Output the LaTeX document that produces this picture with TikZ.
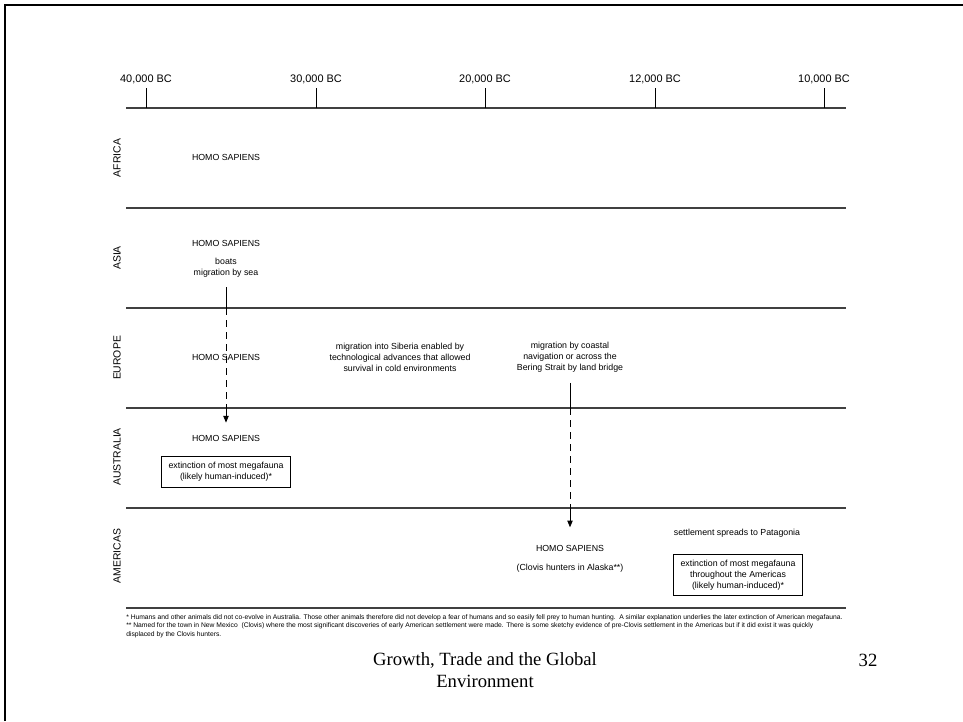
\documentclass[tikz,border=0pt]{standalone}
\usepackage{fontspec}
\setmainfont{Liberation Sans}
\newfontfamily\footerfont{Liberation Serif}
\usetikzlibrary{arrows.meta}

\begin{document}
\begin{tikzpicture}[x=0.75pt, y=-0.75pt,
    lbl/.style={font=\fontsize{6.6}{8.2}\selectfont, align=center, inner sep=1pt},
    megabox/.style={lbl, draw, line width=0.6pt, minimum width=97pt},
    laneline/.style={line width=1pt, black!75},
    moveto/.style={line width=0.6pt, dash pattern=on 5pt off 4pt},
    movetip/.style={line width=0.6pt, -{Triangle[length=5pt,width=4pt]}}]
    \useasboundingbox (0,0) rectangle (963,721);
    \draw[line width=2.2pt] (5,721) -- (5,5) -- (963,5);

    % time axis
    \draw[laneline] (126,108) -- (846,108);
    \foreach \x/\t [count=\n] in {146/{40,000 BC},316/{30,000 BC},485/{20,000 BC},655/{12,000 BC},824/{10,000 BC}} {
        \draw[line width=0.6pt] (\x,88) -- (\x,108);
        \node[font=\fontsize{8.2}{10}\selectfont, inner sep=1pt] (year\n) at (\x,79) {\t};
    }

    % lanes
    \foreach \y in {208,308,408,508,608}
        \draw[laneline] (126,\y) -- (846,\y);
    \foreach \y/\r in {158/AFRICA,258/ASIA,358/EUROPE,457/AUSTRALIA,556/AMERICAS}
        \node[rotate=90, font=\fontsize{7.8}{9}\selectfont] (lane-\r) at (117,\y) {\r};

    % events
    \node[lbl] (hsafrica) at (226,157) {HOMO SAPIENS};
    \node[lbl] (hsasia) at (226,243) {HOMO SAPIENS};
    \node[lbl] (boats) at (226,268) {boats\\migration by sea};
    \node[lbl] (hseurope) at (226,357) {HOMO SAPIENS};
    \node[lbl] (siberia) at (400,357) {migration into Siberia enabled by\\technological advances that allowed\\survival in cold environments};
    \node[lbl] (bering) at (570,357) {migration by coastal\\navigation or across the\\Bering Strait by land bridge};
    \node[lbl] (hsaus) at (226,438) {HOMO SAPIENS};
    \node[megabox, minimum height=23pt] (megaaus) at (226,472) {extinction of most megafauna\\(likely human-induced)*};
    \node[lbl] (patagonia) at (737,533) {settlement spreads to Patagonia};
    \node[lbl] (hsamer) at (570,548) {HOMO SAPIENS};
    \node[lbl] (clovis) at (570,568) {(Clovis hunters in Alaska**)};
    \node[megabox, minimum height=31pt] (megaamer) at (738,575) {extinction of most megafauna\\throughout the Americas\\(likely human-induced)*};

    % migrations
    \coordinate (sea1) at (226,308);
    \coordinate (sea2) at (226,408);
    \draw[line width=0.6pt, shorten <=6pt] (boats.south) -- (sea1);
    \draw[moveto] (sea1) -- (sea2);
    \draw[movetip, shorten >=8pt] (sea2) -- (hsaus.north);
    \coordinate (land1) at (570,408);
    \coordinate (land2) at (570,508);
    \draw[line width=0.6pt, shorten <=7pt] (bering.south) -- (land1);
    \draw[moveto] (land1) -- (land2);
    \draw[movetip, shorten >=12pt] (land2) -- (hsamer.north);

    % notes
    \node[font=\fontsize{5.05}{6.5}\selectfont, align=left, anchor=north west, inner sep=0pt] (notes) at (126,614)
        {* Humans and other animals did not co-evolve in Australia. Those other animals therefore did not develop a fear of humans and so easily fell prey to human hunting.\ \ A similar explanation underlies the later extinction of American megafauna.\\
         ** Named for the town in New Mexico\ \ (Clovis) where the most significant discoveries of early American settlement were made. There is some sketchy evidence of pre-Clovis settlement in the Americas but if it did exist it was quickly\\
         displaced by the Clovis hunters.};
    \node[font=\footerfont\fontsize{14}{16}\selectfont, align=center] (title) at (485,670) {Growth, Trade and the Global\\Environment};
    \node[font=\footerfont\fontsize{14}{16}\selectfont] (page) at (868,660) {32};
\end{tikzpicture}
\end{document}
